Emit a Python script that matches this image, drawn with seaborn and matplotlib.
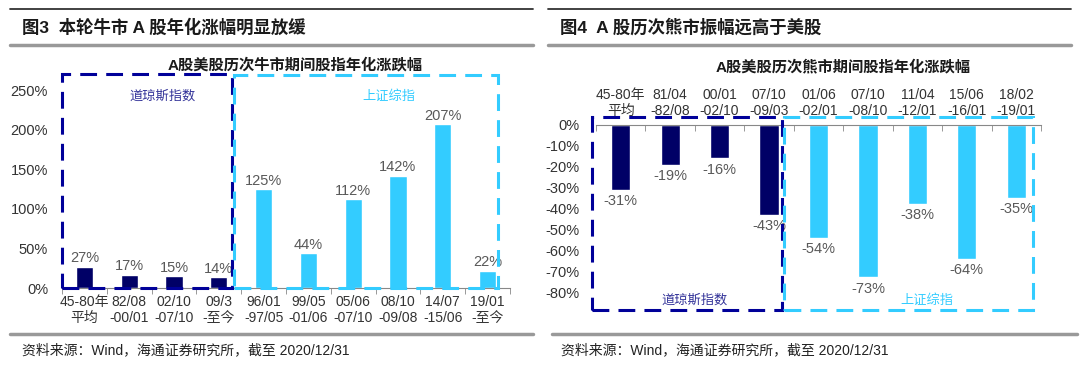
import matplotlib
matplotlib.use("Agg")
import matplotlib.pyplot as plt
import seaborn as sns
import pandas as pd
from matplotlib.patches import Rectangle
from matplotlib.lines import Line2D
from matplotlib.ticker import FixedLocator

# data
bull_labels = ["45-80年\n平均", "82/08\n-00/01", "02/10\n-07/10", "09/3\n-至今", "96/01\n-97/05",
               "99/05\n-01/06", "05/06\n-07/10", "08/10\n-09/08", "14/07\n-15/06", "19/01\n-至今"]
bull_values = [27, 17, 15, 14, 125, 44, 112, 142, 207, 22]
bull_market = ["道琼斯指数"] * 4 + ["上证综指"] * 6

bear_labels = ["45-80年\n平均", "81/04\n-82/08", "00/01\n-02/10", "07/10\n-09/03", "01/06\n-02/01",
               "07/10\n-08/10", "11/04\n-12/01", "15/06\n-16/01", "18/02\n-19/01"]
bear_values = [-31, -19, -16, -43, -54, -73, -38, -64, -35]
bear_market = ["道琼斯指数"] * 4 + ["上证综指"] * 5

NAVY = "#000066"
NAVY_BOX = "#000099"
CYAN = "#33CCFF"
palette = {"道琼斯指数": NAVY, "上证综指": CYAN}

sns.set_style("white")
plt.rcParams["font.family"] = ["Liberation Sans", "Noto Sans CJK SC", "DejaVu Sans"]

W, H = 1080, 365
fig = plt.figure(figsize=(W / 100, H / 100), dpi=100)


def fx(px):
    return px / W


def fy(py):
    return 1 - py / H


def header(x0, x1, xt, title):
    fig.add_artist(Line2D([fx(x0), fx(x1)], [fy(8.5), fy(8.5)], color="#333333", lw=1.3))
    fig.add_artist(Line2D([fx(x0), fx(x1)], [fy(45), fy(45)], color="#999999", lw=2.5))
    fig.text(fx(xt), fy(27), title, fontsize=12.5, fontweight="bold", va="center", ha="left",
             color="#1a1a1a")


def footer(x0, x1, xt):
    fig.add_artist(Line2D([fx(x0), fx(x1)], [fy(334), fy(334)], color="#999999", lw=2.5))
    fig.text(fx(xt), fy(350), "资料来源：Wind，海通证券研究所，截至 2020/12/31", fontsize=10,
             va="center", ha="left", color="#222222")


header(10, 533, 22, "图3  本轮牛市 A 股年化涨幅明显放缓")
header(548, 1071, 560, "图4  A 股历次熊市振幅远高于美股")
footer(10, 533, 22)
footer(552, 1077, 561)

# ---- left: bull markets ----
ax1 = fig.add_axes([fx(62), fy(288), fx(510) - fx(62), fy(90) - fy(288)])
df1 = pd.DataFrame({"period": bull_labels, "value": bull_values, "market": bull_market})
sns.barplot(data=df1, x="period", y="value", hue="market", palette=palette, dodge=False,
            width=0.38, legend=False, ax=ax1, saturation=1)
ax1.set_xlim(-0.5, 9.5)
ax1.set_ylim(0, 250)
ax1.set_yticks(range(0, 251, 50))
ax1.set_yticklabels([f"{v}%" for v in range(0, 251, 50)])
for c in ax1.containers:
    ax1.bar_label(c, fmt="%g%%", padding=1, fontsize=10.5, color="#595959")
ax1.set_xlabel("")
ax1.set_ylabel("")
for s in ["top", "right", "left"]:
    ax1.spines[s].set_visible(False)
ax1.spines["bottom"].set_color("#888888")
ax1.xaxis.set_minor_locator(FixedLocator([i - 0.5 for i in range(11)]))
ax1.tick_params(axis="x", which="major", length=0, labelsize=10, labelcolor="#333333", pad=5)
ax1.tick_params(axis="x", which="minor", length=4, color="#888888", direction="out", bottom=True)
ax1.tick_params(axis="y", length=0, labelsize=10.5, labelcolor="#333333", pad=10)
ax1.add_patch(Rectangle((-0.5, 0), 3.8, 270, fill=False, ls=(0, (5.5, 3)), lw=2.2,
                        edgecolor=NAVY_BOX, clip_on=False, zorder=5))
ax1.add_patch(Rectangle((3.35, 0), 5.88, 269, fill=False, ls=(0, (5.5, 3)), lw=2.2,
                        edgecolor=CYAN, clip_on=False, zorder=5))
ax1.text(1.75, 242, "道琼斯指数", color="#333399", fontsize=9.5, ha="center", va="center")
ax1.text(6.8, 242, "上证综指", color=CYAN, fontsize=9.5, ha="center", va="center")
ax1.text(4.7, 281, "A股美股历次牛市期间股指年化涨跌幅", fontsize=11, fontweight="bold",
         ha="center", va="center", color="#1a1a1a", clip_on=False)

# ---- right: bear markets ----
ax2 = fig.add_axes([fx(596), fy(292), fx(1041) - fx(596), fy(125) - fy(292)])
df2 = pd.DataFrame({"period": bear_labels, "value": bear_values, "market": bear_market})
sns.barplot(data=df2, x="period", y="value", hue="market", palette=palette, dodge=False,
            width=0.39, legend=False, ax=ax2, saturation=1)
ax2.set_xlim(-0.5, 8.5)
ax2.set_ylim(-80, 0)
ax2.set_yticks(range(-80, 1, 10))
ax2.set_yticklabels([f"{v}%" for v in range(-80, 1, 10)])
for c in ax2.containers:
    ax2.bar_label(c, fmt="%g%%", padding=3, fontsize=10.5, color="#595959")
ax2.set_xlabel("")
ax2.set_ylabel("")
for s in ["bottom", "right", "left"]:
    ax2.spines[s].set_visible(False)
ax2.spines["top"].set_color("#888888")
ax2.xaxis.tick_top()
ax2.xaxis.set_minor_locator(FixedLocator([i - 0.5 for i in range(10)]))
ax2.tick_params(axis="x", which="major", length=0, labelsize=10, labelcolor="#333333", pad=5)
ax2.tick_params(axis="x", which="minor", length=4, color="#888888", direction="in", top=True)
ax2.tick_params(axis="y", length=0, labelsize=10.5, labelcolor="#333333", pad=12)
ax2.add_patch(Rectangle((-0.58, -88.6), 3.85, 92.4, fill=False, ls=(0, (5.5, 3)), lw=2.2,
                        edgecolor=NAVY_BOX, clip_on=False, zorder=5))
ax2.add_patch(Rectangle((3.3, -88.6), 5.03, 92.4, fill=False, ls=(0, (5.5, 3)), lw=2.2,
                        edgecolor=CYAN, clip_on=False, zorder=5))
ax2.text(1.5, -84, "道琼斯指数", color="#333399", fontsize=9.5, ha="center", va="center")
ax2.text(6.2, -84, "上证综指", color=CYAN, fontsize=9.5, ha="center", va="center")
ax2.text(4.5, 28, "A股美股历次熊市期间股指年化涨跌幅", fontsize=11, fontweight="bold",
         ha="center", va="center", color="#1a1a1a", clip_on=False)

fig.savefig("out.png", dpi=100)
